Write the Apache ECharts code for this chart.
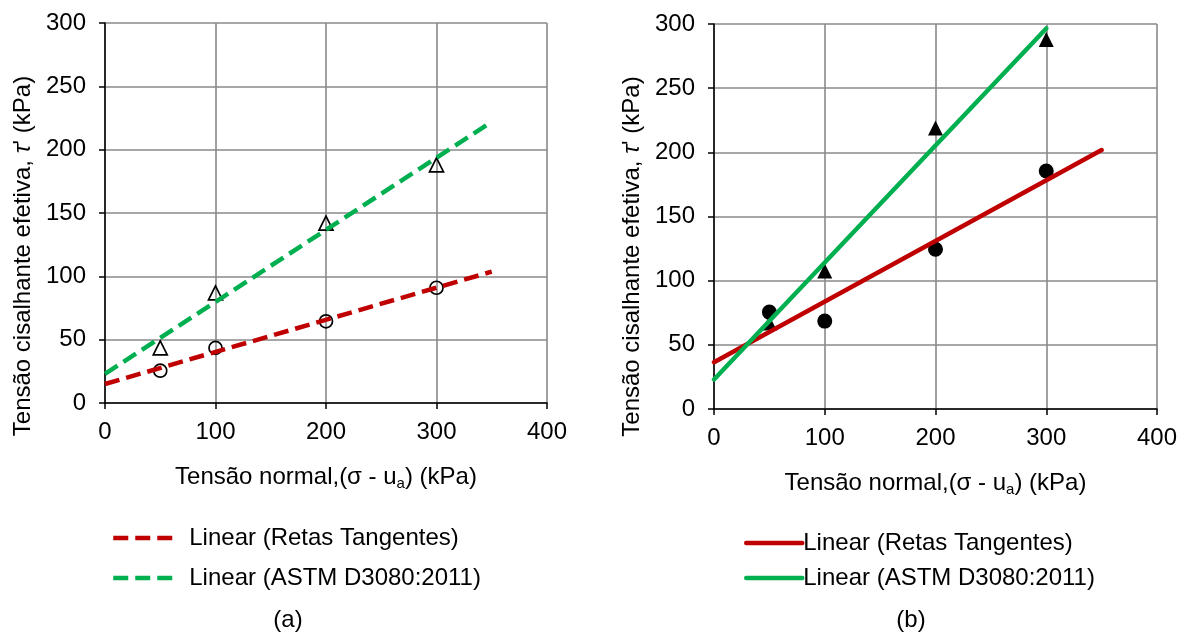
<!DOCTYPE html>
<html>
<head>
<meta charset="utf-8">
<script src="https://cdn.jsdelivr.net/npm/echarts@6/dist/echarts.min.js"></script>
<style>
  html, body { margin: 0; padding: 0; background: #fff; }
  #chart { width: 1182px; height: 636px; }
</style>
</head>
<body>
<div id="chart"></div>
<script>
// Normal stress (kPa) of each test
const normalStress = [50, 100, 200, 300];

// (a) shear strength envelopes
const aRetasTangentes = [25.5, 43.5, 64.5, 91];
const aAstm = [43.5, 87, 142, 188];
const aTrendRetas = [[0, 15], [350, 103.7]];
const aTrendAstm = [[0, 23], [350, 222]];

// (b) shear strength envelopes
const bRetasTangentes = [75.5, 68.5, 124.5, 185.5];
const bAstm = [67, 107.5, 219, 288];
const bTrendRetas = [[0, 36.5], [350, 201.8]];
const bTrendAstm = [[0, 23], [300, 296.5]];

// Axis ticks
const xTicks = { min: 0, max: 400, interval: 100 };
const yTicks = { min: 0, max: 300, interval: 50 };

const legendLabels = {
  'a-ret': 'Linear (Retas Tangentes)',
  'a-astm': 'Linear (ASTM D3080:2011)',
  'b-ret': 'Linear (Retas Tangentes)',
  'b-astm': 'Linear (ASTM D3080:2011)'
};
const panelLabels = ['(a)', '(b)'];

const FONT = 'Liberation Sans, Arial, sans-serif';
const FS = 24;
const RED = '#C00000';
const GREEN = '#00B050';
const GRID_GRAY = '#8a8a8a';

const pairs = (xs, ys) => xs.map((x, i) => [x, ys[i]]);

function xAxisFor(gridIndex) {
  return {
    type: 'value', gridIndex,
    min: xTicks.min, max: xTicks.max, interval: xTicks.interval,
    name: 'Tensão normal,(σ - u{sub|a}) (kPa)',
    nameLocation: 'middle', nameGap: 60,
    nameTextStyle: {
      fontFamily: FONT, fontSize: FS, color: '#000',
      rich: { sub: { fontFamily: FONT, fontSize: 15, color: '#000', padding: [13, 0, 0, 0] } }
    },
    axisLine: { show: true, onZero: false, lineStyle: { color: '#000', width: 1.5 } },
    axisTick: { show: true, inside: false, length: 6, lineStyle: { color: '#000', width: 1.5 } },
    axisLabel: { fontFamily: FONT, fontSize: FS, color: '#000', margin: 17 },
    splitLine: { show: true, lineStyle: { color: GRID_GRAY, width: 1.6 } }
  };
}

function yAxisFor(gridIndex, shift, gap) {
  return {
    type: 'value', gridIndex,
    min: yTicks.min, max: yTicks.max, interval: yTicks.interval,
    name: "Tensão cisalhante efetiva, {it|τ}' (kPa)",
    nameLocation: 'middle', nameRotate: 90, nameGap: gap,
    nameTextStyle: {
      fontFamily: FONT, fontSize: FS, color: '#000', padding: [0, shift, 0, 0],
      rich: { it: { fontFamily: FONT, fontSize: FS, color: '#000', fontStyle: 'italic' } }
    },
    axisLine: { show: true, onZero: false, lineStyle: { color: '#000', width: 1.5 } },
    axisTick: { show: true, inside: false, length: 6, lineStyle: { color: '#000', width: 1.5 } },
    axisLabel: { fontFamily: FONT, fontSize: FS, color: '#000', margin: 19 },
    splitLine: { show: true, lineStyle: { color: GRID_GRAY, width: 1.6 } }
  };
}

function markers(name, idx, data, symbol, filled, size) {
  return {
    type: 'scatter', name, xAxisIndex: idx, yAxisIndex: idx,
    data, symbol, symbolSize: size, z: 2, silent: true,
    itemStyle: filled
      ? { color: '#000', borderColor: '#000', borderWidth: 0, opacity: 1 }
      : { color: 'rgba(255,255,255,0)', borderColor: '#000', borderWidth: 1.7, opacity: 1 }
  };
}

function trend(name, idx, data, color, dashed) {
  return {
    type: 'line', name, xAxisIndex: idx, yAxisIndex: idx,
    data, symbol: 'none', showSymbol: false, z: 3, silent: true,
    lineStyle: { color, width: 4.5, type: dashed ? [15, 7] : 'solid', cap: dashed ? 'butt' : 'round' },
    itemStyle: { color }
  };
}

function legendFor(keys, left, top, gap, width, textPad) {
  return {
    data: keys, orient: 'vertical', left, top, padding: 0,
    itemWidth: width, itemHeight: 9, itemGap: gap,
    formatter: (n) => legendLabels[n],
    selectedMode: false,
    itemStyle: { opacity: 0 },
    lineStyle: { width: 4.5 },
    textStyle: { fontFamily: FONT, fontSize: FS, color: '#000', padding: [0, 0, 0, textPad] }
  };
}

const chart = echarts.init(document.getElementById('chart'), null, { renderer: 'canvas' });

chart.setOption({
  backgroundColor: '#fff',
  animation: false,
  grid: [
    { left: 105, top: 23, width: 442, height: 380 },
    { left: 714, top: 24, width: 443, height: 385 }
  ],
  xAxis: [xAxisFor(0), xAxisFor(1)],
  yAxis: [yAxisFor(0, 86, 70), yAxisFor(1, 80, 70)],
  legend: [
    legendFor(['a-ret', 'a-astm'], 111, 526, 16, 62, 9),
    legendFor(['b-ret', 'b-astm'], 744, 531, 11, 56, -4)
  ],
  series: [
    markers('a-ret-pts', 0, pairs(normalStress, aRetasTangentes), 'circle', false, 13),
    markers('a-astm-pts', 0, pairs(normalStress, aAstm), 'triangle', false, 14),
    trend('a-ret', 0, aTrendRetas, RED, true),
    trend('a-astm', 0, aTrendAstm, GREEN, true),
    markers('b-ret-pts', 1, pairs(normalStress, bRetasTangentes), 'circle', true, 15),
    markers('b-astm-pts', 1, pairs(normalStress, bAstm), 'triangle', true, 15),
    trend('b-ret', 1, bTrendRetas, RED, false),
    trend('b-astm', 1, bTrendAstm, GREEN, false)
  ],
  graphic: [
    { type: 'text', x: 288, y: 620, style: { text: panelLabels[0], fontFamily: FONT, fontSize: FS, fill: '#000', align: 'center', verticalAlign: 'middle' } },
    { type: 'text', x: 911, y: 620, style: { text: panelLabels[1], fontFamily: FONT, fontSize: FS, fill: '#000', align: 'center', verticalAlign: 'middle' } }
  ]
});
</script>
</body>
</html>
